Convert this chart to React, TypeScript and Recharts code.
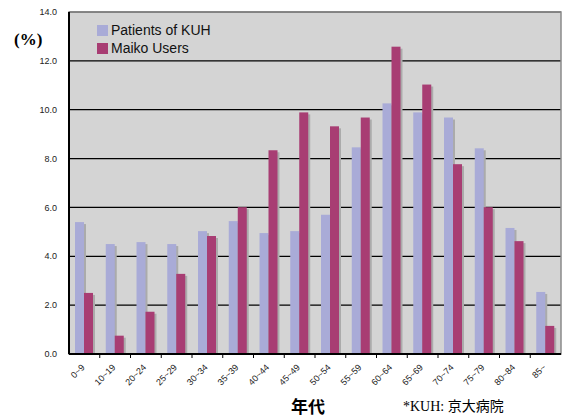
import { Bar, BarChart, CartesianGrid, ReferenceArea, XAxis, YAxis } from "recharts";

const AGE_GROUPS = [
  "0~9", "10~19", "20~24", "25~29", "30~34", "35~39", "40~44", "45~49",
  "50~54", "55~59", "60~64", "65~69", "70~74", "75~79", "80~84", "85~",
];
const KUH_PATIENTS = [5.4, 4.5, 4.58, 4.5, 5.03, 5.44, 4.95, 5.03, 5.7, 8.46, 10.26, 9.89, 9.68, 8.42, 5.16, 2.54];
const MAIKO_USERS = [2.5, 0.75, 1.73, 3.28, 4.83, 6.01, 8.34, 9.89, 9.32, 9.68, 12.58, 11.03, 7.77, 6.01, 4.62, 1.15];
const Y_TICKS = [0, 2, 4, 6, 8, 10, 12, 14];
const SERIES = [
  { key: "kuh", name: "Patients of KUH", color: "#a9abd7" },
  { key: "maiko", name: "Maiko Users", color: "#a83d73" },
];

const SANS = "'Liberation Sans', Arial, sans-serif";
const SERIF = "'Liberation Serif', 'Times New Roman', 'Noto Sans CJK JP', serif";

const W = 563;
const H = 416;
const PLOT_LEFT = 69;
const PLOT_RIGHT = 2;
const STEP = (W - PLOT_LEFT - PLOT_RIGHT) / AGE_GROUPS.length;

const data = AGE_GROUPS.map((age, i) => ({ age, kuh: KUH_PATIENTS[i], maiko: MAIKO_USERS[i] }));

// bar with the soft grey drop shadow the original spreadsheet chart has
function ShadowBar(props: any) {
  const { x, y, width, height, fill } = props;
  if (!height || height <= 0) return null;
  return (
    <g>
      <rect x={x + 2} y={y + 2} width={width} height={height - 2} fill="#ababab" />
      <rect x={x} y={y} width={width} height={height} fill={fill} />
    </g>
  );
}

// rotated label + small tick mark on the boundary between categories
function AgeTick(props: any) {
  const { x, y, payload, index } = props;
  return (
    <g>
      {index > 0 && <line x1={x - STEP / 2} y1={y - 8} x2={x - STEP / 2} y2={y - 4} stroke="#000" />}
      <text
        x={x + 1}
        y={y + 6}
        transform={`rotate(-45 ${x + 1} ${y + 6})`}
        textAnchor="end"
        fontSize={9}
        fontFamily={SANS}
        fill="#222"
      >
        {payload.value}
      </text>
    </g>
  );
}

export default function App() {
  return (
    <div style={{ position: "absolute", left: 0, top: 0, width: W, height: H, background: "#fff" }}>
      <BarChart
        width={W}
        height={H}
        data={data}
        margin={{ top: 12, right: PLOT_RIGHT, bottom: 0, left: 0 }}
        barSize={9}
        barGap={0}
      >
        <CartesianGrid vertical={false} stroke="#000" strokeWidth={1.2} fill="#d4d4d4" fillOpacity={1} />
        <ReferenceArea y1={0} y2={14} fill="none" stroke="#8a8a8a" strokeWidth={1.5} />
        <XAxis
          dataKey="age"
          height={62}
          tickLine={false}
          axisLine={{ stroke: "#000", strokeWidth: 2 }}
          tick={<AgeTick />}
          interval={0}
        />
        <YAxis
          width={PLOT_LEFT}
          domain={[0, 14]}
          ticks={Y_TICKS}
          tickFormatter={(v: number) => v.toFixed(1)}
          tickLine={false}
          axisLine={{ stroke: "#000", strokeWidth: 2 }}
          tick={{ fontSize: 9, fontFamily: SANS, fill: "#222" }}
          tickMargin={6}
        />
        {SERIES.map((s) => (
          <Bar key={s.key} dataKey={s.key} name={s.name} fill={s.color} shape={<ShadowBar />} isAnimationActive={false} />
        ))}
      </BarChart>
      <div style={{ position: "absolute", left: 97, top: 21, fontFamily: SANS, fontSize: 14, color: "#111", lineHeight: "18px" }}>
        {SERIES.map((s) => (
          <div key={s.key} style={{ display: "flex", alignItems: "center", whiteSpace: "nowrap" }}>
            <span style={{ width: 11, height: 11, background: s.color, marginRight: 3, display: "inline-block" }} />
            {s.name}
          </div>
        ))}
      </div>
      <div style={{ position: "absolute", left: 14, top: 30, fontFamily: SERIF, fontWeight: "bold", fontSize: 17, whiteSpace: "nowrap" }}>
        (%)
      </div>
      <div style={{ position: "absolute", left: 291, top: 393, fontFamily: SERIF, fontWeight: "bold", fontSize: 17, whiteSpace: "nowrap" }}>
        年代
      </div>
      <div style={{ position: "absolute", left: 403, top: 395, fontFamily: SERIF, fontSize: 14, whiteSpace: "nowrap" }}>
        *KUH: 京大病院
      </div>
    </div>
  );
}
